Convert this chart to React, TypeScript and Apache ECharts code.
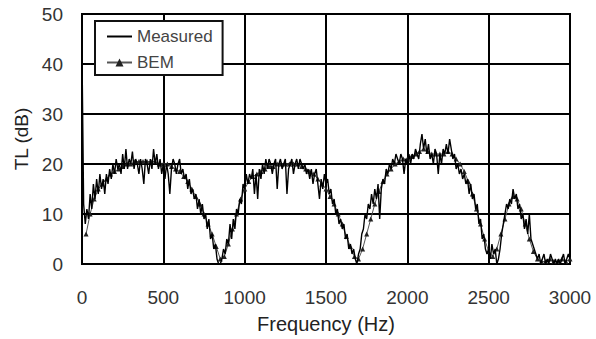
import React, { useEffect, useRef } from "react";
import * as echarts from "echarts";

// Measured TL, 0..3000 Hz every 10 Hz
const measuredFreqStep = 10;
const measuredTL = [
  42, 12, 8, 11, 9, 14, 11, 16, 13, 17,
  14, 18, 15, 17, 14, 18, 16, 19, 17, 20,
  18, 21, 19, 20, 18, 22, 19, 23, 19, 21,
  20, 22.5, 19, 21, 20, 18, 21, 19, 16, 21,
  20, 18, 21, 19, 23, 20, 22, 19, 21, 18,
  20, 17, 20, 18, 14, 19, 21, 20, 18, 20,
  21, 18, 19, 17, 18, 15, 17, 14, 15, 13,
  14, 11, 13, 10, 12, 9, 10, 7, 9, 5,
  6, 3, 4, 1, 0, 0, 1, 3, 2, 5,
  4, 8, 5, 9, 7, 11, 10, 13, 12, 16,
  15, 18, 16, 18, 17, 19, 14, 18, 13, 19,
  17, 20, 18, 21, 19, 21, 20, 18, 20, 21,
  15, 20, 21, 19, 20, 21, 14, 19, 20, 21,
  18, 20, 21, 19, 21, 20, 19, 20, 18, 19,
  17, 19, 16, 18, 19, 16, 13, 17, 15, 18,
  16, 17, 14, 15, 12, 13, 10, 11, 8, 9,
  7, 8, 5, 6, 3, 4, 2, 3, 1, 0,
  2, 3, 6, 7, 10, 9, 12, 11, 14, 12,
  15, 13, 16, 9, 15, 17, 16, 19, 18, 20,
  19, 21, 20, 22, 21, 20, 22, 21, 18, 21,
  20, 22, 20, 22, 21, 23, 22, 21, 24, 26,
  23, 25, 22, 24, 21, 22, 20, 23, 22, 18,
  22, 20, 23, 22, 24, 22, 25, 23, 21, 22,
  19, 20, 18, 19, 17, 18, 16, 17, 14, 16,
  13, 14, 11, 12, 8, 9, 5, 6, 3, 2,
  3, 1, 4, 2, 3, 0, 1, 3, 6, 8,
  10, 12, 11, 13, 12, 15, 13, 14, 11, 12,
  9, 10, 7, 9, 6, 10, 5, 4, 3, 2,
  1, 2, 0, 1, 2, 0, 1, 0, 2, 1,
  0, 1, 0, 1, 0, 1, 2, 0, 1, 2,
  1,
];

// BEM TL, 25..3000 Hz every 25 Hz
const bemFreqStart = 25;
const bemFreqStep = 25;
const bemTL = [
  6, 10, 13, 15, 16, 17, 18, 18.5, 19, 19.5,
  20, 20, 20.5, 20.5, 20.5, 20.5, 20.5, 20.5, 20, 20,
  20, 19.5, 19, 18.5, 17.5, 16.5, 15, 13.5, 12, 10,
  8, 6, 3.5, 1, 1.5, 4, 7, 10, 13, 15,
  16.5, 17.5, 18, 18.5, 19, 19.5, 19.5, 20, 20, 20,
  20, 20, 20, 19.5, 19, 18.5, 18, 17, 16, 15,
  13.5, 12, 10, 8, 5.5, 3.5, 1.5, 1, 3, 6,
  9, 12, 14.5, 16.5, 18, 19, 20, 20.5, 21, 21,
  21.5, 22, 22.5, 23, 22.5, 22, 22, 22, 22, 22.5,
  22, 21, 20, 18.5, 16.5, 14, 11, 8, 5, 2.5,
  1.5, 3, 6, 9, 12, 13.5, 13, 11, 8, 5,
  2.5, 1, 0.5, 0.5, 1, 0.5, 0.5, 1, 0.5, 1,
];

const xTicks = [0, 500, 1000, 1500, 2000, 2500, 3000];
const yTicks = [0, 10, 20, 30, 40, 50];

export default function App() {
  const ref = useRef<HTMLDivElement>(null);
  useEffect(() => {
    if (!ref.current) return;
    const chart = echarts.init(ref.current, null, { renderer: "svg" });
    const measured = measuredTL.map((v, i) => [i * measuredFreqStep, v]);
    const bem = bemTL.map((v, i) => [bemFreqStart + i * bemFreqStep, v]);
    const font = "Liberation Sans, Arial, sans-serif";
    chart.setOption({
      animation: false,
      backgroundColor: "#fff",
      textStyle: { fontFamily: font },
      grid: { left: 82, right: 26, top: 14, bottom: 72, show: true, borderColor: "#000", borderWidth: 2 },
      legend: {
        left: 95,
        top: 21,
        orient: "vertical",
        backgroundColor: "#fff",
        borderColor: "#111",
        borderWidth: 2,
        borderRadius: 0,
        padding: [7, 10, 4, 11],
        itemGap: 9,
        itemWidth: 25,
        itemHeight: 10,
        textStyle: { fontSize: 17, color: "#444", fontFamily: font },
        data: [
          { name: "Measured", itemStyle: { opacity: 0 } },
          { name: "BEM" },
        ],
      },
      xAxis: {
        type: "value",
        min: xTicks[0],
        max: xTicks[xTicks.length - 1],
        interval: 500,
        name: "Frequency (Hz)",
        nameLocation: "middle",
        nameGap: 50,
        nameTextStyle: { fontSize: 20, color: "#222" },
        axisLine: { lineStyle: { color: "#000", width: 2 } },
        axisTick: { show: false },
        axisLabel: { fontSize: 19, color: "#333", margin: 24, formatter: (v: number) => String(v) },
        splitLine: { lineStyle: { color: "#000", width: 2 } },
      },
      yAxis: {
        type: "value",
        min: yTicks[0],
        max: yTicks[yTicks.length - 1],
        interval: 10,
        name: "TL (dB)",
        nameLocation: "middle",
        nameGap: 50,
        nameTextStyle: { fontSize: 19, color: "#222" },
        axisLine: { show: true, lineStyle: { color: "#000", width: 2 } },
        axisTick: { show: false },
        axisLabel: { fontSize: 19, color: "#333", margin: 19, formatter: (v: number) => String(v) },
        splitLine: { lineStyle: { color: "#000", width: 2 } },
      },
      series: [
        {
          name: "Measured",
          type: "line",
          data: measured,
          symbol: "none",
          lineStyle: { color: "#000", width: 1.4 },
          itemStyle: { color: "#000" },
          z: 3,
        },
        {
          name: "BEM",
          type: "line",
          data: bem,
          symbol: "triangle",
          symbolSize: 5,
          lineStyle: { color: "#555", width: 1 },
          itemStyle: { color: "#222" },
          z: 2,
        },
      ],
    });
    return () => chart.dispose();
  }, []);
  return <div ref={ref} style={{ width: 596, height: 339, position: "absolute", left: 0, top: 0 }} />;
}
